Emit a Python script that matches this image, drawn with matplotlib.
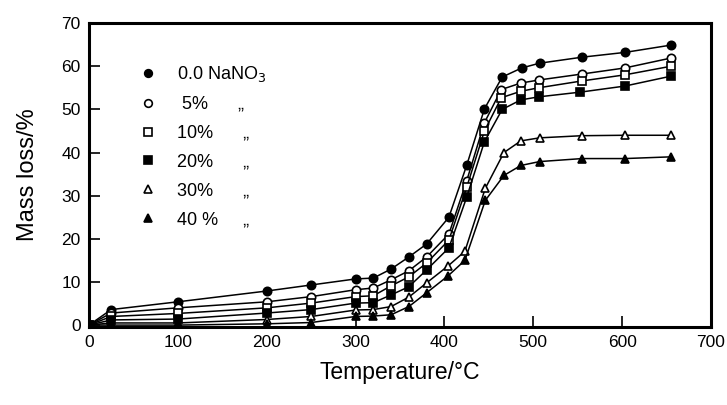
import numpy as np
from matplotlib import pyplot as plt
from matplotlib.lines import Line2D

plt.rcParams['font.family'] = ['Liberation Sans', 'DejaVu Sans']

# temperatures (deg C)
temp_0 = [0, 25, 100, 200, 250, 300, 320, 340, 360, 380, 405, 425, 445, 465, 487, 507, 555, 603, 655]
temp_5 = [0, 25, 100, 200, 250, 300, 320, 340, 360, 380, 405, 425, 445, 464, 486, 506, 555, 603, 655]
temp_10 = [0, 25, 100, 200, 250, 300, 320, 340, 360, 380, 405, 425, 445, 464, 486, 506, 555, 603, 655]
temp_20 = [0, 25, 100, 200, 250, 300, 320, 340, 360, 380, 405, 425, 445, 465, 486, 506, 553, 603, 655]
temp_30 = [0, 25, 100, 200, 250, 300, 320, 340, 360, 380, 404, 423, 446, 467, 486, 507, 555, 603, 655]
temp_40 = [0, 25, 100, 200, 250, 300, 320, 340, 360, 380, 404, 423, 446, 467, 486, 507, 555, 603, 655]

# mass loss (%)
loss_0 = [0, 3.6, 5.4, 7.9, 9.3, 10.7, 10.9, 13.0, 15.8, 18.8, 25.0, 37.0, 50.1, 57.5, 59.6, 60.7, 62.1, 63.2, 64.9]
loss_5 = [0, 2.8, 4.0, 5.4, 6.6, 8.2, 8.6, 10.5, 12.6, 15.8, 21.1, 33.4, 46.9, 54.6, 56.1, 56.8, 58.2, 59.6, 61.9]
loss_10 = [0, 2.0, 2.7, 4.0, 5.1, 6.6, 6.8, 9.1, 11.2, 14.4, 19.7, 31.9, 45.0, 52.7, 54.2, 55.0, 56.6, 58.0, 60.0]
loss_20 = [0, 1.2, 1.4, 2.8, 3.6, 5.1, 5.2, 7.0, 8.9, 12.8, 17.9, 29.6, 42.5, 50.0, 52.2, 52.9, 54.0, 55.4, 57.7]
loss_30 = [0, 0.5, 0.5, 1.3, 2.0, 3.5, 3.6, 4.3, 6.5, 9.8, 13.7, 17.1, 31.7, 40.0, 42.7, 43.4, 43.9, 44.0, 44.0]
loss_40 = [0, 0.0, 0.0, 0.3, 0.6, 2.0, 2.1, 2.4, 4.3, 7.5, 11.4, 15.0, 28.9, 34.7, 37.0, 37.9, 38.6, 38.6, 39.0]

labels = ['0.0 NaNO$_3$', ' 5%      \u201e', '10%      \u201e', '20%      \u201e', '30%      \u201e', '40 %     \u201e']
markers = ['o', 'o', 's', 's', '^', '^']
filled = [True, False, False, True, False, True]

series = [(temp_0, loss_0), (temp_5, loss_5), (temp_10, loss_10),
          (temp_20, loss_20), (temp_30, loss_30), (temp_40, loss_40)]

fig = plt.figure(figsize=(7.27, 4.05), dpi=100)
ax = fig.add_axes([0.1224, 0.193, 0.8556, 0.75])

handles = []
for (t, m), mk, fl, lab in zip(series, markers, filled, labels):
    fc = 'black' if fl else 'white'
    ax.plot(t, m, color='black', lw=1.1, marker=mk, ms=6, mfc=fc,
            mec='black', mew=1.2, zorder=3)
    handles.append(Line2D([], [], ls='none', marker=mk, ms=5.5, mfc=fc,
                          mec='black', mew=1.2, label=lab))

ax.set_xlim(0, 700)
ax.set_ylim(-0.4, 69.7)
ax.set_xticks(np.arange(0, 701, 100))
ax.set_yticks(np.arange(0, 71, 10))
ax.tick_params(direction='in', length=8, width=1.2, labelsize=12.5, pad=6,
               top=False, right=False)
for s in ax.spines.values():
    s.set_linewidth(2.2)

ax.set_xlabel('Temperature/\u00b0C', fontsize=16.5, labelpad=8)
ax.set_ylabel('Mass loss/%', fontsize=17, labelpad=16)

ax.legend(handles=handles, loc='upper left', bbox_to_anchor=(0.072, 0.895),
          frameon=False, fontsize=13, handlelength=0.6, handletextpad=1.3,
          labelspacing=0.66, borderpad=0)

fig.savefig('out.png', dpi=100)
